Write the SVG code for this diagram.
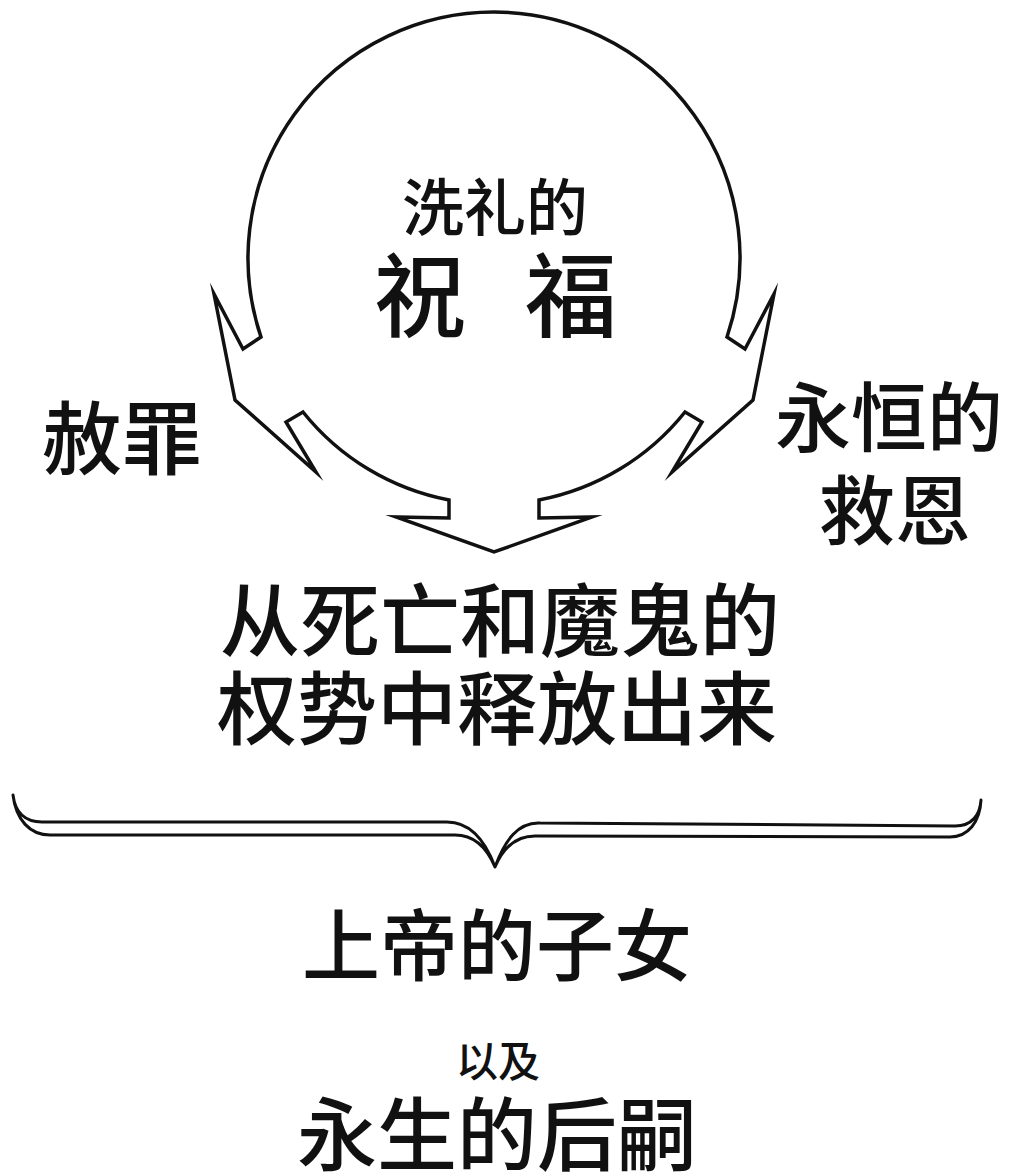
<svg xmlns="http://www.w3.org/2000/svg" width="1020" height="1176" viewBox="0 0 1020 1176">
<style>
.t{font-family:"Noto Sans CJK SC","Noto Sans",sans-serif;font-weight:500;fill:#111;text-anchor:middle}
.ln{fill:#fff;stroke:#111;stroke-width:3.5;stroke-linejoin:miter;stroke-miterlimit:10}
.br{fill:none;stroke:#111;stroke-width:3;stroke-linejoin:round}
</style>
<rect width="1020" height="1176" fill="#fff"/>
<g id="connectors">
<path class="br" d="M 13,795 C 15,812 25,822 42,822 L 447,822 C 470,822 485,840 495,867 C 505,840 518,822 540,823 L 955,826 C 972,826 980,815 981,800 C 980,822 968,837 950,837 L 535,836 C 515,836 503,848 495,867 C 487,848 475,835 455,835 L 50,835 C 30,835 16,820 13,795 Z"/>
</g>
<g id="baptism">
<path class="ln" d="M 261,337 A 246 246 0 1 1 727,337 L 745,349 L 774,294 L 753,400 L 672,472 L 702,422 L 685,412 A 246 246 0 0 1 539,500 L 539,518 L 592,517 L 494,552 L 396,517 L 449,518 L 449,500 A 246 246 0 0 1 303,412 L 286,422 L 316,472 L 235,400 L 214,294 L 243,349 Z"/>
<text class="t" x="495" y="231" font-size="62">洗礼的</text>
<text class="t" x="420" y="330" font-size="92">祝</text>
<text class="t" x="571" y="330" font-size="92">福</text>
</g>
<g id="forgiveness">
<text class="t" x="122" y="468" font-size="80">赦罪</text>
</g>
<g id="salvation">
<text class="t" x="889" y="446" font-size="76">永恒的</text>
<text class="t" x="895" y="539" font-size="76">救恩</text>
</g>
<g id="freedom">
<text class="t" x="500" y="650" font-size="80">从死亡和魔鬼的</text>
<text class="t" x="497" y="738" font-size="80">权势中释放出来</text>
</g>
<g id="children">
<text class="t" x="497" y="975" font-size="78">上帝的子女</text>
<text class="t" x="498" y="1077" font-size="42">以及</text>
<text class="t" x="497" y="1164" font-size="80">永生的后嗣</text>
</g>
</svg>
